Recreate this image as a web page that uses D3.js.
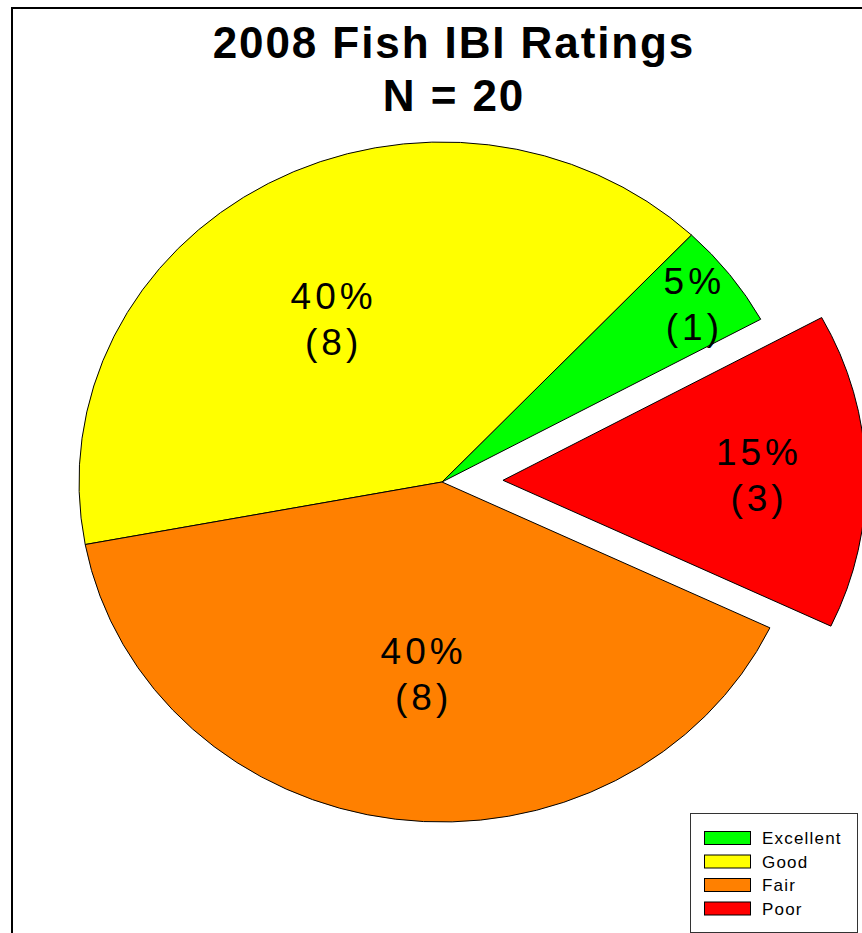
<!DOCTYPE html>
<html>
<head>
<meta charset="utf-8">
<script src="https://cdn.jsdelivr.net/npm/d3@7"></script>
<style>
  body { margin: 0; background: #fff; }
  svg { display: block; font-family: "Liberation Sans", Arial, sans-serif; }
</style>
</head>
<body>
<script>
// data
const titleLines = ["2008 Fish IBI Ratings", "N = 20"];
const categories = ["Excellent", "Good", "Fair", "Poor"];
const counts = [1, 8, 8, 3];
const colors = ["#00ff00", "#ffff00", "#ff8000", "#ff0000"];
const explodedCats = ["Poor"];

const W = 862, H = 933;
const cx = 442, cy = 482;
const rx = 363, ry = 340;
const explodeDist = 61;
// label placement: fraction of radius and small angle nudge (degrees) per slice
const labelFrac = {Excellent: 0.867, Good: 0.569, Fair: 0.566, Poor: 0.70};
const labelNudge = {Excellent: 0.3, Good: -3.7, Fair: -1.7, Poor: 0.2};

const total = d3.sum(counts);
const data = categories.map((c, i) => ({cat: c, count: counts[i], color: colors[i]}));

const svg = d3.select("body").append("svg")
  .attr("width", W)
  .attr("height", H);

// frame
svg.append("rect")
  .attr("x", 12).attr("y", 8)
  .attr("width", W + 50).attr("height", H + 50)
  .attr("fill", "none")
  .attr("stroke", "#000")
  .attr("stroke-width", 2);

// title
svg.append("g").selectAll("text")
  .data(titleLines)
  .enter()
  .append("text")
  .attr("x", 454)
  .attr("y", (d, i) => 58 + i * 53)
  .attr("text-anchor", "middle")
  .attr("font-size", 44)
  .attr("font-weight", "bold")
  .attr("letter-spacing", 1.9)
  .text(d => d);

// pie, laid out counterclockwise
const deg = Math.PI / 180;
const start = 61.4 * deg;
const pie = d3.pie()
  .sort(null)
  .value(d => d.count)
  .startAngle(start)
  .endAngle(start - 2 * Math.PI);

const arcs = pie(data);
const arc = d3.arc().innerRadius(0).outerRadius(ry);

function midAngle(d) { return (d.startAngle + d.endAngle) / 2; }
function offset(d) {
  if (explodedCats.indexOf(d.data.cat) < 0) return [0, 0];
  const a = midAngle(d);
  return [explodeDist * Math.sin(a), -explodeDist * Math.cos(a)];
}

const sx = rx / ry;

const slices = svg.append("g").selectAll("g.slice")
  .data(arcs)
  .enter()
  .append("g")
  .attr("class", "slice")
  .attr("transform", d => {
    const o = offset(d);
    return "translate(" + (cx + o[0]) + "," + (cy + o[1]) + ")";
  });

slices.append("path")
  .attr("transform", "scale(" + sx + ",1)")
  .attr("d", arc)
  .attr("fill", d => d.data.color)
  .attr("stroke", "#000")
  .attr("stroke-width", 1)
  .attr("vector-effect", "non-scaling-stroke");

// labels
const labels = slices.append("text")
  .attr("text-anchor", "middle")
  .attr("font-size", 37)
  .attr("letter-spacing", 4)
  .attr("transform", d => {
    const a = midAngle(d) + labelNudge[d.data.cat] * deg;
    const f = labelFrac[d.data.cat];
    return "translate(" + (f * rx * Math.sin(a)) + "," + (-f * ry * Math.cos(a)) + ")";
  });

labels.append("tspan")
  .attr("x", 2)
  .attr("y", -9.5)
  .text(d => Math.round(d.data.count / total * 100) + "%");

labels.append("tspan")
  .attr("x", 2)
  .attr("y", 36.5)
  .text(d => "(" + d.data.count + ")");

// legend
const legend = svg.append("g").attr("transform", "translate(690,813)");
legend.append("rect")
  .attr("x", 0.5).attr("y", 0.5)
  .attr("width", 167).attr("height", 119)
  .attr("fill", "#fff")
  .attr("stroke", "#333")
  .attr("stroke-width", 1);

const items = legend.selectAll("g.item")
  .data(data)
  .enter()
  .append("g")
  .attr("class", "item")
  .attr("transform", (d, i) => "translate(0," + (18 + i * 23.5) + ")");

items.append("rect")
  .attr("x", 14.5).attr("y", 0.5)
  .attr("width", 46).attr("height", 13)
  .attr("fill", d => d.color)
  .attr("stroke", "#000")
  .attr("stroke-width", 1);

items.append("text")
  .attr("x", 72)
  .attr("y", 13)
  .attr("font-size", 17)
  .attr("letter-spacing", 1.2)
  .text(d => d.cat);
</script>
</body>
</html>
